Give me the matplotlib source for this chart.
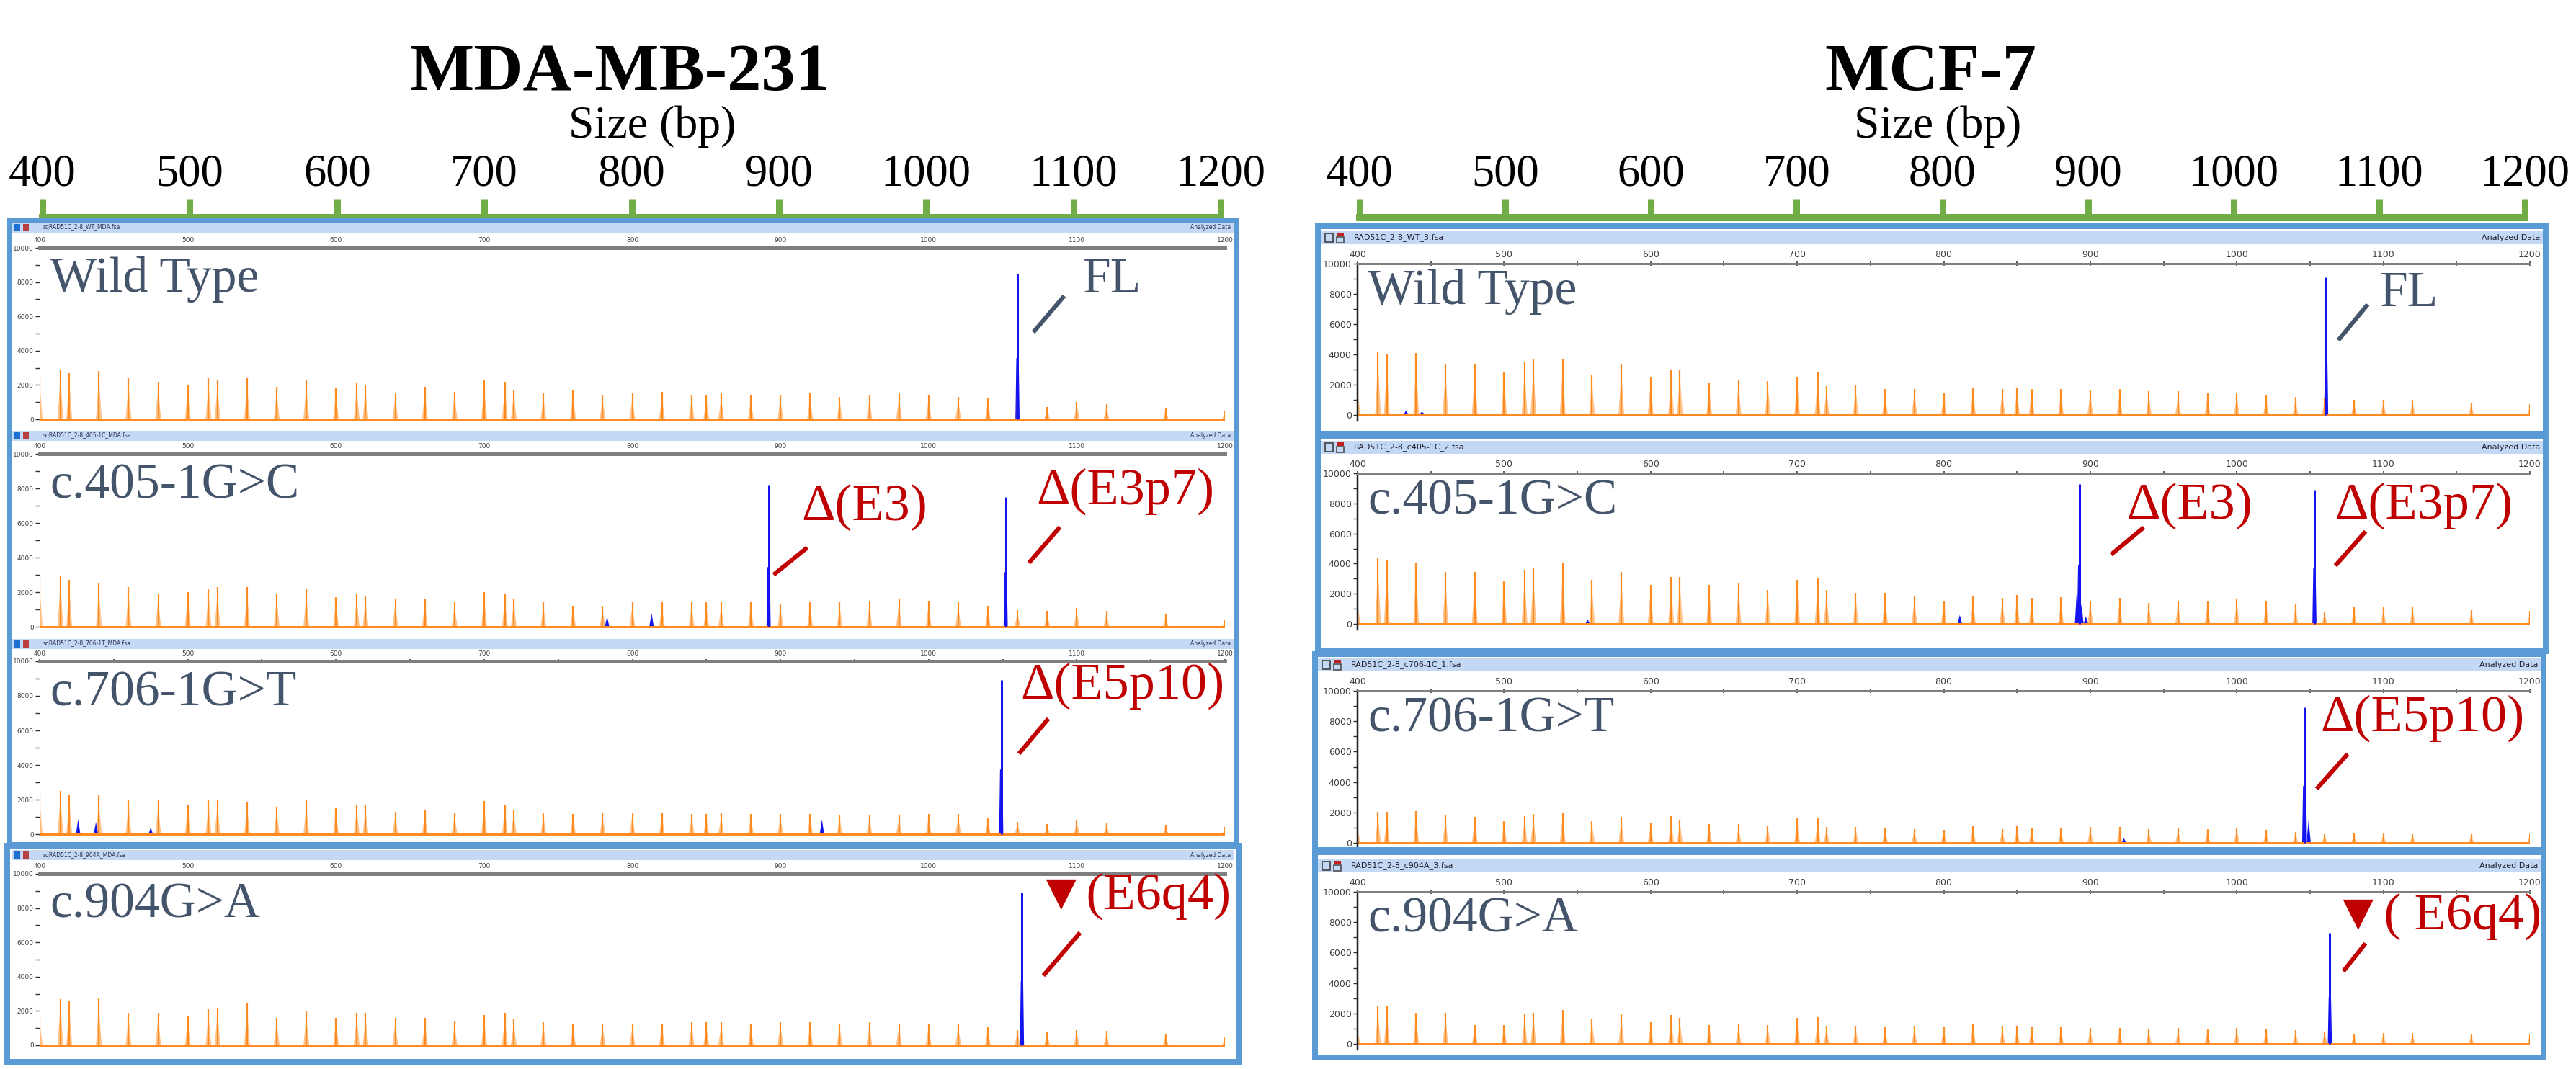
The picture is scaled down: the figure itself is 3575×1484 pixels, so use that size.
import matplotlib.pyplot as plt
from matplotlib.patches import Rectangle
from matplotlib.lines import Line2D

# ---------------- data ----------------
# size standard peaks (bp) shown between 400 and 1200
ladder_bp = [400, 414, 420, 440, 460, 480, 500, 514, 520, 540, 560, 580, 600, 614, 620,
             640, 660, 680, 700, 714, 720, 740, 760, 780, 800, 820, 840, 850, 860, 880,
             900, 920, 940, 960, 980, 1000, 1020, 1040, 1060, 1080, 1100, 1120, 1160, 1200]

# orange ladder heights (RFU), MDA-MB-231
mda_wt = [2600, 2900, 2700, 2800, 2400, 2200, 2000, 2400, 2300, 2400, 1900, 2300, 1800, 2100, 2000,
          1500, 1900, 1600, 2300, 2200, 1700, 1500, 1700, 1400, 1500, 1600, 1400, 1400, 1500, 1400,
          1400, 1500, 1300, 1400, 1500, 1400, 1300, 1200, 1300, 730, 1000, 900, 670, 500]
mda_c405 = [2800, 2900, 2700, 2500, 2300, 1900, 2000, 2200, 2300, 2300, 1900, 2200, 1700, 1900, 1800,
            1600, 1600, 1400, 2000, 1900, 1600, 1400, 1200, 1200, 1400, 1400, 1400, 1400, 1400, 1400,
            1300, 1400, 1400, 1500, 1600, 1500, 1400, 1200, 950, 900, 1100, 900, 700, 400]
mda_c706 = [2350, 2500, 2250, 2250, 2000, 1950, 1700, 2000, 2000, 1850, 1600, 1950, 1500, 1700, 1700,
            1300, 1400, 1250, 1900, 1700, 1400, 1250, 1150, 1200, 1250, 1250, 1150, 1150, 1200, 1150,
            1150, 1150, 1100, 1100, 1100, 1150, 1150, 950, 700, 600, 800, 650, 550, 400]
mda_c904 = [1750, 2700, 2600, 2750, 1900, 1900, 1700, 2100, 2200, 2500, 1600, 2000, 1600, 1900, 1900,
            1600, 1600, 1400, 1750, 1900, 1500, 1350, 1250, 1250, 1250, 1250, 1350, 1350, 1350, 1250,
            1350, 1350, 1250, 1350, 1250, 1250, 1250, 1050, 900, 800, 900, 850, 650, 500]

# orange ladder heights (RFU), MCF-7
mcf_wt = [2000, 4200, 4000, 4100, 3350, 3400, 2800, 3500, 3700, 3700, 2600, 3350, 2500, 3000, 3000,
          2100, 2350, 2250, 2500, 2850, 1900, 2000, 1700, 1700, 1450, 1800, 1700, 1800, 1700, 1700,
          1650, 1700, 1550, 1550, 1450, 1500, 1350, 1200, 1100, 1000, 1000, 1000, 800, 700]
mcf_c405 = [1650, 4350, 4250, 4050, 3450, 3450, 2800, 3600, 3750, 4000, 2900, 3450, 2600, 3100, 3100,
            2600, 2700, 2250, 2900, 3000, 2250, 2050, 2050, 1800, 1550, 1800, 1700, 1900, 1700, 1750,
            1550, 1700, 1400, 1550, 1500, 1650, 1500, 1300, 750, 1100, 1100, 1150, 900, 850]
mcf_c706 = [1100, 2050, 2050, 2100, 1800, 1700, 1400, 1750, 1900, 2000, 1400, 1700, 1350, 1750, 1500,
            1250, 1250, 1150, 1600, 1600, 1050, 1050, 1000, 900, 850, 1100, 900, 1100, 1000, 1000,
            1050, 1050, 900, 1000, 900, 1000, 850, 700, 550, 600, 600, 550, 550, 550]
mcf_c904 = [1000, 2500, 2500, 2050, 2050, 1250, 1250, 2000, 2050, 2250, 1600, 1950, 1400, 1900, 1700,
            1250, 1350, 1250, 1700, 1750, 1150, 1150, 1100, 1150, 1100, 1350, 1150, 1150, 1100, 1100,
            1050, 1050, 1000, 1050, 1000, 1050, 1000, 900, 800, 600, 700, 700, 600, 600]

# blue RAD51C products (bp, RFU)
mda_wt_blue_bp = [1060]
mda_wt_blue_h = [8500]
mda_c405_blue_bp = [783, 813, 892, 1052]
mda_c405_blue_h = [600, 800, 8200, 7500]
mda_c706_blue_bp = [426, 438, 475, 928, 1049]
mda_c706_blue_h = [850, 700, 400, 850, 8900]
mda_c904_blue_bp = [1063]
mda_c904_blue_h = [8900]

mcf_wt_blue_bp = [433, 444, 1061]
mcf_wt_blue_h = [300, 250, 9100]
mcf_c405_blue_bp = [557, 811, 891, 892.5, 894, 897, 1053]
mcf_c405_blue_h = [300, 600, 2500, 9300, 1300, 500, 8900]
mcf_c706_blue_bp = [923, 1046, 1049]
mcf_c706_blue_h = [300, 8900, 1500]
mcf_c904_blue_bp = [1063.5]
mcf_c904_blue_h = [7300]

panel_names = ['Wild Type', 'c.405-1G>C', 'c.706-1G>T', 'c.904G>A']
mda_files = ['sqRAD51C_2-8_WT_MDA.fsa', 'sqRAD51C_2-8_405-1C_MDA.fsa',
             'sqRAD51C_2-8_706-1T_MDA.fsa', 'sqRAD51C_2-8_904A_MDA.fsa']
mcf_files = ['RAD51C_2-8_WT_3.fsa', 'RAD51C_2-8_c405-1C_2.fsa',
             'RAD51C_2-8_c706-1C_1.fsa', 'RAD51C_2-8_c904A_3.fsa']
size_ticks = [400, 500, 600, 700, 800, 900, 1000, 1100, 1200]
rfu_ticks = [0, 2000, 4000, 6000, 8000, 10000]

# ---------------- styling ----------------
W, H = 3575, 1484
PX = 0.72          # points per pixel at dpi 100
SERIF = 'Liberation Serif'
GREEN = '#70AD47'
BOXBLUE = '#5B9BD5'
HEADBLUE = '#C3D8F4'
ORANGE = '#FF8A1F'
HALO = '#FFC38C'
BLUE = '#1414F0'
SLATE = '#44546A'
RED = '#C00000'

plt.rcParams['font.family'] = 'DejaVu Sans'
fig = plt.figure(figsize=(W / 100, H / 100), dpi=100)


def fx(x):
    return x / W


def fy(y):
    return 1 - y / H


def frect(x0, y0, x1, y1, **kw):
    fig.patches.append(Rectangle((fx(x0), fy(y1)), (x1 - x0) / W, (y1 - y0) / H,
                                 transform=fig.transFigure, **kw))


def fline(x0, y0, x1, y1, **kw):
    fig.add_artist(Line2D([fx(x0), fx(x1)], [fy(y0), fy(y1)], transform=fig.transFigure, **kw))


def ftext(x, y, s, **kw):
    fig.text(fx(x), fy(y), s, **kw)


# green size scale above each column
def size_axis(x0, x1):
    ax = fig.add_axes([fx(x0), fy(302), (x1 - x0) / W, 30 / H])
    ax.set_xlim(400, 1200)
    ax.set_ylim(0, 1)
    ax.set_facecolor('none')
    for s in ['left', 'right', 'top']:
        ax.spines[s].set_visible(False)
    ax.spines['bottom'].set_color(GREEN)
    ax.spines['bottom'].set_linewidth(10 * PX)
    ax.set_yticks([])
    ax.set_xticks(size_ticks)
    ax.tick_params(axis='x', bottom=True, top=False, direction='in', length=26 * PX,
                   width=9 * PX, color=GREEN, labelbottom=False, labeltop=True, pad=0)
    for lab in ax.get_xticklabels():
        lab.set_fontfamily(SERIF)
        lab.set_fontsize(45)


# one electropherogram
def panel(x0, x1, top, zero, ladder_h, blue_bp, blue_h, mcf):
    pad = 8
    ax = fig.add_axes([fx(x0), fy(zero + pad), (x1 - x0) / W, (zero + pad - top) / H])
    ax.set_facecolor('none')
    ax.set_xlim(400, 1200)
    ax.set_ylim(-10000 * pad / (zero - top), 10000)
    # size standard
    for p, h in zip(ladder_bp, ladder_h):
        ax.fill([p - 2.0, p, p + 2.0], [0, h * 0.8, 0], color=HALO, lw=0)
        ax.vlines(p, 0, h, color=ORANGE, lw=2.2 * PX)
    ax.axhline(0, color=ORANGE, lw=3 * PX)
    # RAD51C products
    for p, h in zip(blue_bp, blue_h):
        if h > 3000:
            ax.fill([p - 1.4, p - 0.8, p + 0.8, p + 1.4], [0, 0.42 * h, 0.42 * h, 0], color=BLUE, lw=0)
            ax.vlines(p, 0, h, color=BLUE, lw=3 * PX)
        else:
            ax.fill([p - 1.5, p, p + 1.5], [0, h, 0], color=BLUE, lw=0)
    # top size axis
    ax.spines['bottom'].set_visible(False)
    ax.spines['right'].set_visible(False)
    ax.spines['top'].set_color('#7F7F7F')
    ax.spines['top'].set_linewidth((3 if mcf else 5) * PX)
    ax.xaxis.tick_top()
    ax.set_xticks(size_ticks)
    ax.set_xticks([450, 550, 650, 750, 850, 950, 1050, 1150], minor=True)
    ax.tick_params(axis='x', which='both', direction='inout', length=5, width=1.2,
                   color='#404040', labelsize=(9 if mcf else 6.5), pad=2, labelcolor='#404040')
    ax.set_yticks(rfu_ticks)
    ax.set_yticks([1000, 3000, 5000, 7000, 9000], minor=True)
    ax.tick_params(axis='y', which='both', length=4, width=1, color='#303030',
                   labelsize=(9 if mcf else 6.5), pad=2, labelcolor='#404040')
    if mcf:
        ax.spines['left'].set_color('#202020')
        ax.spines['left'].set_linewidth(2.5 * PX)
    else:
        ax.spines['left'].set_visible(False)
    return ax


# column titles
ftext(860, 103, 'MDA-MB-231', ha='center', va='center', fontsize=68, fontweight='bold', family=SERIF)
ftext(2679, 103, 'MCF-7', ha='center', va='center', fontsize=68, fontweight='bold', family=SERIF)
ftext(905, 176, 'Size (bp)', ha='center', va='center', fontsize=46, family=SERIF)
ftext(2689, 176, 'Size (bp)', ha='center', va='center', fontsize=46, family=SERIF)

size_axis(59, 1694)
size_axis(1887, 3504)

# ---------------- MDA-MB-231 column ----------------
mda_ladders = [mda_wt, mda_c405, mda_c706, mda_c904]
mda_blue = [(mda_wt_blue_bp, mda_wt_blue_h), (mda_c405_blue_bp, mda_c405_blue_h),
            (mda_c706_blue_bp, mda_c706_blue_h), (mda_c904_blue_bp, mda_c904_blue_h)]
mda_geo = [(344, 582, 309), (630, 870, 598), (918, 1158, 887), (1213, 1451, 1180)]

frect(13, 306, 1716, 1172, fill=False, ec=BOXBLUE, lw=6 * PX)
frect(10, 1174, 1719, 1474, fill=False, ec=BOXBLUE, lw=8 * PX)
for i in range(4):
    top, zero, hy = mda_geo[i]
    frect(17, hy, 1712, hy + 14, color=HEADBLUE, lw=0)
    frect(20, hy + 2, 28, hy + 12, color='#1F6FD0', lw=0)
    frect(32, hy + 2, 40, hy + 12, color='#B84040', lw=0)
    ftext(60, hy + 7, mda_files[i], fontsize=5.5, va='center', color='#303050')
    ftext(1708, hy + 7, 'Analyzed Data', fontsize=5.5, va='center', ha='right', color='#303050')
    panel(55, 1700, top, zero, mda_ladders[i], mda_blue[i][0], mda_blue[i][1], False)
    ftext(69, top + 61, panel_names[i], fontsize=50, family=SERIF, color=SLATE, va='baseline')

# ---------------- MCF-7 column ----------------
mcf_ladders = [mcf_wt, mcf_c405, mcf_c706, mcf_c904]
mcf_blue = [(mcf_wt_blue_bp, mcf_wt_blue_h), (mcf_c405_blue_bp, mcf_c405_blue_h),
            (mcf_c706_blue_bp, mcf_c706_blue_h), (mcf_c904_blue_bp, mcf_c904_blue_h)]
mcf_geo = [(366, 576, 321), (657, 866, 612), (959, 1170, 914), (1238, 1449, 1193)]
mcf_boxes = [(1829, 314, 3533, 602), (1829, 606, 3533, 904), (1825, 908, 3530, 1180), (1825, 1183, 3530, 1468)]

for i in range(4):
    top, zero, hy = mcf_geo[i]
    bx0, by0, bx1, by1 = mcf_boxes[i]
    frect(bx0, by0, bx1, by1, fill=False, ec=BOXBLUE, lw=8 * PX)
    frect(bx0 + 4, hy, bx1 - 4, hy + 18, color=HEADBLUE, lw=0)
    frect(bx0 + 10, hy + 3, bx0 + 21, hy + 15, fill=False, ec='#404040', lw=1.2)
    frect(bx0 + 26, hy + 2, bx0 + 36, hy + 7, color='#C02020', lw=0)
    frect(bx0 + 26, hy + 8, bx0 + 36, hy + 16, fill=False, ec='#505050', lw=1.2)
    ftext(bx0 + 50, hy + 9, mcf_files[i], fontsize=8, va='center', color='#202030')
    ftext(bx1 - 8, hy + 9, 'Analyzed Data', fontsize=8, va='center', ha='right', color='#202030')
    panel(1884, 3511, top, zero, mcf_ladders[i], mcf_blue[i][0], mcf_blue[i][1], True)
    ftext(1898, top + 56, panel_names[i], fontsize=50, family=SERIF, color=SLATE, va='baseline')

# ---------------- peak call-outs ----------------
SLW = 6 * PX
ftext(1503, 406, 'FL', fontsize=50, family=SERIF, color=SLATE, va='baseline')
fline(1436, 459, 1475, 413, color=SLATE, lw=SLW)
ftext(1112, 722, 'Δ(E3)', fontsize=52, family=SERIF, color=RED, va='baseline')
fline(1076, 796, 1118, 762, color=RED, lw=SLW)
ftext(1438, 700, 'Δ(E3p7)', fontsize=52, family=SERIF, color=RED, va='baseline')
fline(1430, 779, 1469, 734, color=RED, lw=SLW)
ftext(1416, 970, 'Δ(E5p10)', fontsize=52, family=SERIF, color=RED, va='baseline')
fline(1416, 1044, 1453, 1000, color=RED, lw=SLW)
ftext(1436, 1262, '▼(E6q4)', fontsize=52, family=[SERIF, 'DejaVu Sans'], color=RED, va='baseline')
fline(1450, 1352, 1497, 1297, color=RED, lw=SLW)

ftext(3303, 425, 'FL', fontsize=50, family=SERIF, color=SLATE, va='baseline')
fline(3247, 470, 3284, 425, color=SLATE, lw=SLW)
ftext(2951, 720, 'Δ(E3)', fontsize=52, family=SERIF, color=RED, va='baseline')
fline(2932, 768, 2973, 734, color=RED, lw=SLW)
ftext(3240, 720, 'Δ(E3p7)', fontsize=52, family=SERIF, color=RED, va='baseline')
fline(3243, 783, 3281, 740, color=RED, lw=SLW)
ftext(3220, 1015, 'Δ(E5p10)', fontsize=52, family=SERIF, color=RED, va='baseline')
fline(3217, 1093, 3256, 1049, color=RED, lw=SLW)
ftext(3237, 1290, '▼( E6q4)', fontsize=52, family=[SERIF, 'DejaVu Sans'], color=RED, va='baseline')
fline(3254, 1346, 3281, 1312, color=RED, lw=SLW)

fig.savefig('out.png', dpi=100)
